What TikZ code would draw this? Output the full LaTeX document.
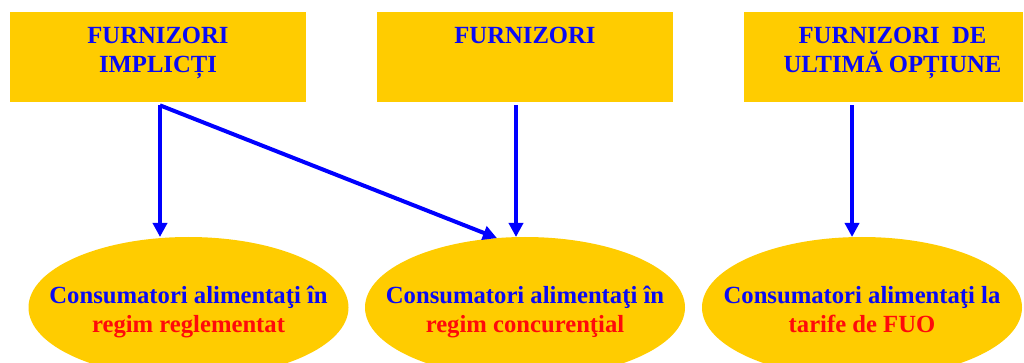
\documentclass[tikz,border=0pt]{standalone}
\usepackage{fontspec}
\setmainfont{Liberation Serif}
\usetikzlibrary{arrows.meta,shapes.geometric}
\definecolor{galben}{HTML}{FFCC00}
\definecolor{albastru}{HTML}{0A0AF5}
\definecolor{rosu}{HTML}{FF0A0A}

\begin{document}
\begin{tikzpicture}[x=0.75pt,y=-0.75pt,->,>={Triangle[length=10.5pt,width=10.5pt]},
furnizor/.style={rectangle, fill=galben, minimum height=67.5pt, inner sep=0pt, outer sep=0pt},
titlu/.style={anchor=north, inner sep=0pt, align=center, text=albastru,
  font=\bfseries\fontsize{18.5}{21.75}\selectfont},
consumator/.style={ellipse, fill=galben, minimum width=240pt, minimum height=105.75pt,
  inner sep=0pt, outer sep=0pt},
sageata/.style={draw=blue, line width=3pt}]
\clip (0,0) rectangle (1024,363);

\node[furnizor, minimum width=222pt](b1) at (158,57){};
\node[furnizor, minimum width=222.5pt](b2) at (525,57){};
\node[furnizor, minimum width=209pt](b3) at (883.5,57){};
\node[titlu] (t1) at ([yshift=-11.25pt]b1.north){FURNIZORI\\IMPLICȚI};
\node[titlu] (t2) at ([yshift=-11.25pt]b2.north){FURNIZORI};
\node[titlu] (t3) at ([xshift=6.75pt,yshift=-11.25pt]b3.north){FURNIZORI~ DE\\ULTIMĂ OPȚIUNE};

\node[consumator](e1) at (188.5,307.5){};
\node[consumator](e2) at (525,307.5){};
\node[consumator](e3) at (862,307.5){};
\node[titlu] (c1) at ([yshift=-36.75pt]e1.north){Consumatori alimentaţi în\\\textcolor{rosu}{regim reglementat}};
\node[titlu] (c2) at ([yshift=-36.75pt]e2.north){Consumatori alimentaţi în\\\textcolor{rosu}{regim concurenţial}};
\node[titlu] (c3) at ([yshift=-36.75pt]e3.north){Consumatori alimentaţi la\\\textcolor{rosu}{tarife de FUO}};

\coordinate (s1) at ([xshift=1.5pt,yshift=-2.5pt]b1.south);
\coordinate (s2) at ([xshift=-6.75pt,yshift=-2.5pt]b2.south);
\coordinate (s3) at ([xshift=-23.6pt,yshift=-2.5pt]b3.south);

\path (s1) edge[sageata] (s1 |- e1.north)
      (s1) edge[sageata] (e2.112)
      (s2) edge[sageata] (s2 |- e2.north)
      (s3) edge[sageata] (s3 |- e3.north)
;
\end{tikzpicture}
\end{document}
